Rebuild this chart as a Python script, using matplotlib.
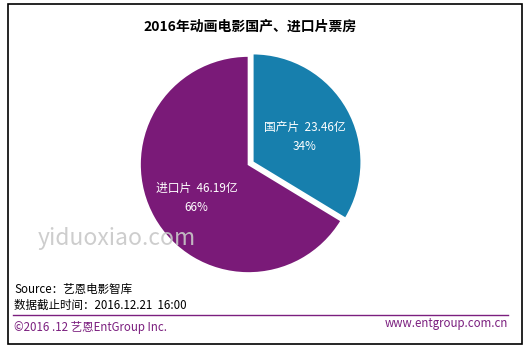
import matplotlib.pyplot as plt
from matplotlib.patches import Rectangle
from matplotlib.lines import Line2D

plt.rcParams["font.family"] = ["Noto Sans CJK SC", "DejaVu Sans"]

categories = ["国产片", "进口片"]
values = [23.46, 46.19]
colors = ["#177FAD", "#7A1A78"]
footer_purple = "#7B1F7F"

W, H = 530, 354
fig = plt.figure(figsize=(W / 100, H / 100), dpi=100)

# outer frame
fig.add_artist(Rectangle((8 / W, 10 / H), 514 / W, 340 / H, transform=fig.transFigure,
                         fill=False, edgecolor="black", lw=1.2))

fig.text(250 / W, 1 - 27 / H, "2016年动画电影国产、进口片票房", ha="center", va="center",
         fontsize=10, fontweight="bold")

# pie: center and radius in pixels
cx, cy, r = 248.5, 164.5, 108.5
ax = fig.add_axes([(cx - r) / W, 1 - (cy + r) / H, 2 * r / W, 2 * r / H])
total = sum(values)
wedges, _, autotexts = ax.pie(
    values, colors=colors, startangle=90, counterclock=False,
    explode=[0.045, 0], radius=1,
    wedgeprops=dict(edgecolor="white", linewidth=1.2),
    autopct=lambda p: "", pctdistance=0.55,
)

for t, cat, v in zip(autotexts, categories, values):
    x, y = t.get_position()
    y -= 0.04
    t.set_text("")
    ax.text(x, y + 0.09, f"{cat}  {v:.2f}亿", ha="center", va="center", color="white", fontsize=8.5)
    ax.text(x, y - 0.09, f"{v / total * 100:.0f}%", ha="center", va="center", color="white", fontsize=8.5)
ax.set_xlim(-1, 1)
ax.set_ylim(-1, 1)
ax.set_aspect("equal")
ax.axis("off")

fig.text(38 / W, 1 - 238 / H, "yiduoxiao.com", ha="left", va="center", fontsize=16.5,
         color="#C8C8C8", alpha=0.9)

fig.text(14 / W, 1 - 289 / H, "Source：艺恩电影智库", ha="left", va="center", fontsize=8.3)
fig.text(14 / W, 1 - 305 / H, "数据截止时间：2016.12.21  16:00", ha="left", va="center", fontsize=8.3)
fig.add_artist(Line2D([13 / W, 508 / W], [1 - 315 / H, 1 - 315 / H], transform=fig.transFigure,
                      color=footer_purple, lw=1))
fig.text(14 / W, 1 - 327 / H, "©2016 .12 艺恩EntGroup Inc.", ha="left", va="center",
         fontsize=8.3, color=footer_purple)
fig.text(508 / W, 1 - 324 / H, "www.entgroup.com.cn", ha="right", va="center",
         fontsize=8.3, color=footer_purple)

fig.savefig("out.png", dpi=100)
